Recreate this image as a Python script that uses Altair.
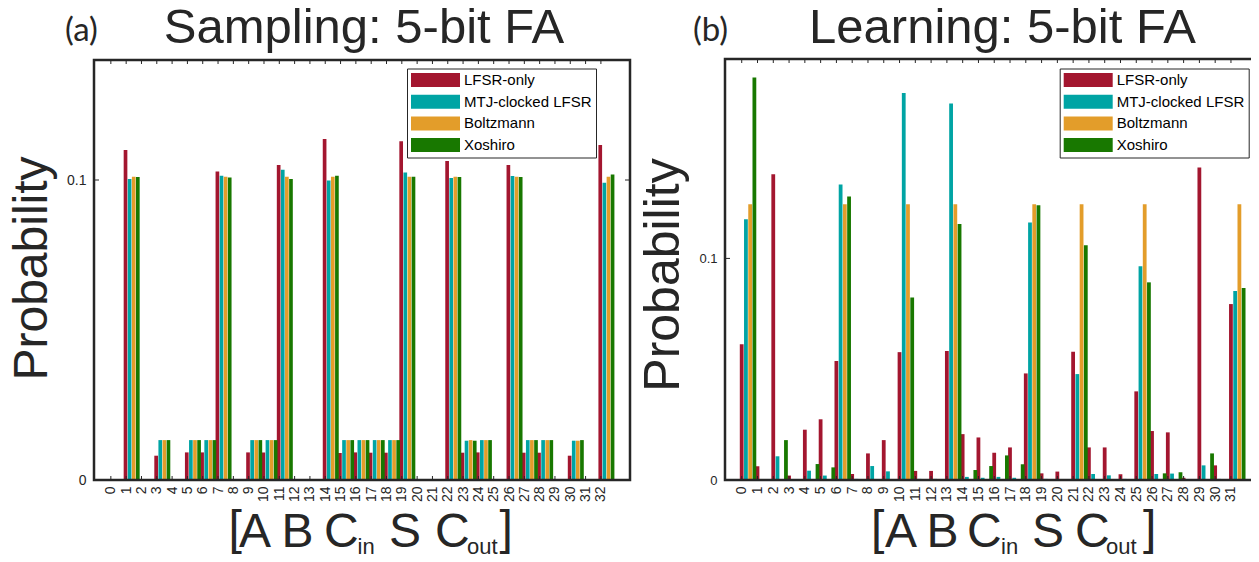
import altair as alt
import pandas as pd

SERIES = ["LFSR-only", "MTJ-clocked LFSR", "Boltzmann", "Xoshiro"]
COLORS = ["#A3162F", "#00A4A4", "#E39D2A", "#187800"]
STATES = list(range(32))
INK = "#262626"
FONT = "Liberation Sans"

# ---------------- (a) Sampling: 5-bit FA ----------------
samp_lfsr = [0.110, 0, 0.0081, 0, 0.0092, 0.0092, 0.1028, 0, 0.0092, 0.0092,
             0.105, 0, 0, 0.1137, 0.0090, 0.0092, 0.0091, 0.0091, 0.1129, 0,
             0, 0.1063, 0.0091, 0.0092, 0, 0.105, 0.0091, 0.0091, 0, 0.0081,
             0, 0.1117]
samp_mtj = [0.1003, 0, 0.0133, 0, 0.0133, 0.0133, 0.1014, 0, 0.0133, 0.0133,
            0.1034, 0, 0, 0.0998, 0.0133, 0.0133, 0.0133, 0.0133, 0.1025, 0,
            0, 0.1007, 0.0131, 0.0133, 0, 0.1013, 0.0133, 0.0133, 0, 0.0131,
            0, 0.0991]
samp_boltz = [0.1011, 0, 0.0133, 0, 0.0133, 0.0133, 0.1011, 0, 0.0133, 0.0133,
              0.1011, 0, 0, 0.1011, 0.0133, 0.0133, 0.0133, 0.0133, 0.1011, 0,
              0, 0.1011, 0.0133, 0.0133, 0, 0.1011, 0.0133, 0.0133, 0, 0.0131,
              0, 0.1011]
samp_xosh = [0.1010, 0, 0.0133, 0, 0.0133, 0.0133, 0.1008, 0, 0.0133, 0.0133,
             0.1003, 0, 0, 0.1014, 0.0133, 0.0133, 0.0133, 0.0133, 0.1011, 0,
             0, 0.1010, 0.0131, 0.0133, 0, 0.1010, 0.0133, 0.0133, 0, 0.0133,
             0, 0.1018]

# ---------------- (b) Learning: 5-bit FA ----------------
learn_lfsr = [0.0613, 0.0062, 0.138, 0.002, 0.0227, 0.0274, 0.0537, 0.0027, 0.012, 0.018,
              0.0577, 0.0041, 0.0041, 0.0582, 0.0207, 0.0192, 0.0123, 0.0147, 0.0481, 0.003,
              0.0038, 0.0579, 0.0147, 0.0147, 0.0026, 0.040, 0.0221, 0.0215, 0.001, 0.141,
              0.0066, 0.0794]
learn_mtj = [0.1177, 0.0004, 0.0107, 0, 0.0042, 0.002, 0.1334, 0.0005, 0.0063, 0.0039,
             0.1747, 0.0005, 0.0005, 0.1699, 0.0014, 0.001, 0.0014, 0.001, 0.1162, 0.0005,
             0, 0.0478, 0.0027, 0.0021, 0.0005, 0.0965, 0.0027, 0.0029, 0, 0.0066,
             0.0005, 0.0853]
learn_boltz = [0.1245, 0, 0, 0, 0, 0, 0.1245, 0, 0, 0,
               0.1245, 0, 0, 0.1245, 0, 0, 0, 0, 0.1245, 0,
               0, 0.1245, 0, 0, 0, 0.1245, 0, 0, 0, 0,
               0, 0.1245]
learn_xosh = [0.1816, 0, 0.018, 0, 0.0072, 0.0057, 0.128, 0, 0, 0,
              0.0824, 0, 0, 0.1155, 0.0045, 0.0063, 0.0111, 0.0071, 0.124, 0,
              0, 0.106, 0, 0, 0, 0.0892, 0.003, 0.0035, 0, 0.012,
              0, 0.0866]

ticks_a = list(range(33))
ticks_b = list(range(32))
yticks = [0, 0.1]

# ---- layout (pixels inside the single drawing area) ----
W_ALL, H_ALL = 1243, 546
PA = dict(x0=86, x1=622, y0=52, y1=472)     # panel (a) plot frame
PB = dict(x0=717, x1=1252, y0=51, y1=472)   # panel (b) plot frame
PITCH = 0.268   # distance between bars of one group, in x units
BW = 0.24       # bar width, in x units
LEG_SYMBOL = "M-3.5,-1H3.5V1H-3.5Z"


def text_layer(txt, x, y, size, font=FONT, align="left", angle=0):
    return alt.Chart(pd.DataFrame({"t": [txt]})).mark_text(
        align=align, baseline="alphabetic", font=font, fontSize=size, color=INK,
        angle=angle
    ).encode(x=alt.value(x), y=alt.value(y), text="t:N")


def panel_layers(vals, tick_vals, xdom, ydom, P, goff, ylabsize, leg_x, leg_y):
    rows = []
    for si, (name, v) in enumerate(zip(SERIES, vals)):
        for g, p in zip(STATES, v):
            rows.append({"state": g, "s": si, "series": name, "p": p})
    df = pd.DataFrame(rows)
    xsc = alt.Scale(domain=xdom, range=[P["x0"], P["x1"]], nice=False, zero=False)
    ysc = alt.Scale(domain=ydom, range=[P["y1"], P["y0"]], nice=False, zero=False)
    xaxis = alt.Axis(
        orient="bottom", offset=P["y1"] - H_ALL,
        values=tick_vals, format="d", labelAngle=270, ticks=False, domain=False,
        grid=False, labelFont=FONT, labelFontSize=14, labelColor=INK,
        labelPadding=6, labelOverlap=False, labelFlush=False, labelBound=False,
        title=None)
    yaxis = alt.Axis(
        orient="left", offset=-P["x0"],
        values=yticks, format="~g", ticks=False, domain=False, grid=False,
        labelFont=FONT, labelFontSize=ylabsize, labelColor=INK, labelPadding=8,
        labelFlush=False, labelBound=False, title=None)

    bars = alt.Chart(df).transform_filter("datum.p > 0").transform_calculate(
        xc=f"datum.state + {goff} + (datum.s - 1.5) * {PITCH}"
    ).transform_calculate(
        xa=f"datum.xc - {BW / 2}", xb=f"datum.xc + {BW / 2}"
    ).mark_bar().encode(
        x=alt.X("xa:Q", scale=xsc, axis=xaxis),
        x2="xb:Q",
        y=alt.Y("p:Q", scale=ysc, axis=yaxis),
        y2=alt.datum(0),
        color=alt.Color("series:N", scale=alt.Scale(domain=SERIES, range=COLORS),
                        legend=alt.Legend(
                            title=None, orient="none", legendX=leg_x, legendY=leg_y,
                            symbolType=LEG_SYMBOL, symbolSize=196, symbolStrokeWidth=0,
                            symbolOpacity=1, symbolOffset=17, labelOffset=21,
                            labelFont=FONT, labelFontSize=15, labelColor="black",
                            labelLimit=400, padding=4, rowPadding=5.7,
                            strokeColor=INK, fillColor="white")),
    )

    tdf = pd.DataFrame({"t": tick_vals})
    top_ticks = alt.Chart(tdf).mark_rule(color=INK, strokeWidth=1).encode(
        x=alt.X("t:Q", scale=xsc, axis=None),
        y=alt.value(P["y0"]), y2=alt.value(P["y0"] + 4))
    bot_ticks = alt.Chart(tdf).mark_rule(color=INK, strokeWidth=1).encode(
        x=alt.X("t:Q", scale=xsc, axis=None),
        y=alt.value(P["y1"]), y2=alt.value(P["y1"] - 4))
    ydf = pd.DataFrame({"v": yticks})
    left_ticks = alt.Chart(ydf).mark_rule(color=INK, strokeWidth=1).encode(
        y=alt.Y("v:Q", scale=ysc, axis=None),
        x=alt.value(P["x0"]), x2=alt.value(P["x0"] + 5))
    right_ticks = alt.Chart(ydf).mark_rule(color=INK, strokeWidth=1).encode(
        y=alt.Y("v:Q", scale=ysc, axis=None),
        x=alt.value(P["x1"] - 5), x2=alt.value(P["x1"]))
    frame = alt.Chart(pd.DataFrame({"f": [0]})).mark_rect(
        fillOpacity=0, stroke=INK, strokeWidth=2.5
    ).encode(x=alt.value(P["x0"]), x2=alt.value(P["x1"]),
             y=alt.value(P["y0"]), y2=alt.value(P["y1"]))
    return [bars, top_ticks, bot_ticks, left_ticks, right_ticks, frame]


layers = []
layers += panel_layers([samp_lfsr, samp_mtj, samp_boltz, samp_xosh], ticks_a,
                       [-1.1, 33.9], [0, 0.14], PA, 1.36, 14, 399, 60.5)
layers += panel_layers([learn_lfsr, learn_mtj, learn_boltz, learn_xosh], ticks_b,
                       [-1.06, 32.84], [0, 0.19], PB, 0.4, 13, 1051.7, 60.5)

# titles, panel tags and axis titles
layers += [
    text_layer("Sampling: 5-bit FA", 356, 35, 49, align="center"),
    text_layer("Learning: 5-bit FA", 994.5, 35, 49, align="center"),
    text_layer("(a)", 57, 33, 33, font="Lato"),
    text_layer("(b)", 685, 33, 33, font="Lato"),
    text_layer("Probability", 39, 260.5, 48, align="center", angle=270),
    text_layer("Probability", 671, 267, 50, align="center", angle=270),
]

# x-axis title "[A B C_in S C_out]" built from pieces (normal text + subscripts)
YB, YS, YK = 539, 545.5, 536
pieces = [
    ("[", 220.6, YK, 48), ("A", 231, YB, 48), ("B", 273.5, YB, 48), ("C", 316, YB, 48),
    ("in", 349.5, YS, 22), ("S", 381, YB, 48), ("C", 427, YB, 48), ("out", 459, YS, 22),
    ("]", 491.5, YK, 48),
    ("[", 863, YK, 48), ("A", 877, YB, 48), ("B", 918.5, YB, 48), ("C", 959, YB, 48),
    ("in", 993, YS, 22), ("S", 1024, YB, 48), ("C", 1067, YB, 48), ("out", 1098, YS, 22),
    ("]", 1135, YK, 48),
]
for txt, x, y, size in pieces:
    layers.append(text_layer(txt, x, y, size))

chart = alt.layer(*layers).resolve_scale(
    x="independent", y="independent", color="independent"
).properties(
    width=W_ALL, height=H_ALL,
    autosize=alt.AutoSizeParams(type="none"),
    padding=0,
).configure_view(strokeWidth=0)

chart.save("out.html", embed_options={"renderer": "svg", "actions": False})
